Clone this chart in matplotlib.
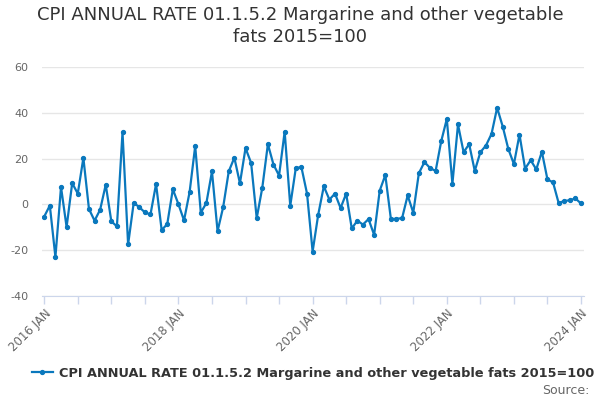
import numpy as np
import matplotlib
matplotlib.use('Agg')
import matplotlib.pyplot as plt

# monthly annual rate, 2016 JAN .. 2024 JAN
rates2016 = [-5.3, -0.5, -23.0, 7.6, -9.9, 9.3, 4.7, 20.3, -2.0, -7.1, -2.3, 8.6]
rates2017 = [-7.4, -9.6, 31.5, -17.5, 0.7, -1.2, -3.5, -4.4, 8.9, -11.2, -8.6, 6.6]
rates2018 = [0.1, -7.0, 5.4, 25.5, -3.6, 0.6, 14.4, -11.7, -1.2, 14.4, 20.4, 9.2]
rates2019 = [24.6, 18.1, -6.0, 7.3, 26.3, 17.4, 12.6, 31.8, -0.6, 16.0, 16.2, 4.7]
rates2020 = [-20.6, -4.5, 7.9, 2.1, 4.7, -1.6, 4.7, -10.5, -7.1, -8.8, -6.4, -13.3]
rates2021 = [6.0, 12.8, -6.4, -6.3, -6.0, 3.9, -3.6, 13.6, 18.5, 15.9, 14.6, 27.6]
rates2022 = [37.3, 9.0, 34.9, 22.8, 26.3, 14.6, 22.8, 25.7, 30.8, 42.2, 34.0, 24.2]
rates2023 = [17.6, 30.5, 15.6, 19.3, 15.3, 23.0, 10.9, 9.6, 0.6, 1.5, 1.8, 2.6]
rates2024 = [0.4]

values = (rates2016 + rates2017 + rates2018 + rates2019 + rates2020
          + rates2021 + rates2022 + rates2023 + rates2024)
months = np.arange(len(values))

tickLabels = ['2016 JAN', '2018 JAN', '2020 JAN', '2022 JAN', '2024 JAN']
yTicks = [-40, -20, 0, 20, 40, 60]
seriesName = 'CPI ANNUAL RATE 01.1.5.2 Margarine and other vegetable fats 2015=100'

lineColor = '#0a78bd'
axisColor = '#ccd6eb'
gridColor = '#e6e6e6'
labelColor = '#666666'

fig = plt.figure(figsize=(6, 4), dpi=100)
ax = fig.add_axes([0.07, 0.26, 0.903, 0.5725])

ax.plot(months, values, color=lineColor, linewidth=1.6, marker='o', markersize=2.8,
        label=seriesName)

ax.set_ylim(-40, 60)
ax.set_xlim(-0.4, 96.5)
ax.set_yticks(yTicks)
ax.set_yticklabels([str(t) for t in yTicks])
ax.yaxis.grid(True, color=gridColor, linewidth=1)
ax.set_axisbelow(True)

ax.set_xticks([0, 24, 48, 72, 96])
ax.set_xticks(np.arange(0, 97, 6), minor=True)
ax.set_xticklabels(tickLabels)

for side in ['top', 'right', 'left']:
    ax.spines[side].set_visible(False)
ax.spines['bottom'].set_color(axisColor)

ax.tick_params(axis='y', length=0, labelsize=8, labelcolor=labelColor, pad=10)
ax.tick_params(axis='x', which='both', length=6, color=axisColor, width=1)
ax.tick_params(axis='x', which='major', labelsize=8.5, labelcolor=labelColor, pad=2)
for lbl in ax.get_xticklabels():
    lbl.set_rotation(45)
    lbl.set_ha('right')
    lbl.set_rotation_mode('anchor')

fig.suptitle('CPI ANNUAL RATE 01.1.5.2 Margarine and other vegetable\nfats 2015=100',
             x=0.5, y=0.985, fontsize=13, color='#333333', linespacing=1.3)

leg = fig.legend(loc='center', bbox_to_anchor=(0.522, 0.067), frameon=False,
                 handlelength=1.6, handletextpad=0.5,
                 prop={'size': 9.3, 'weight': 'bold'})
for t in leg.get_texts():
    t.set_color('#333333')

fig.text(0.982, 0.025, 'Source:', ha='right', va='center', fontsize=9, color=labelColor)

plt.savefig('out.png', dpi=100)
plt.close()
